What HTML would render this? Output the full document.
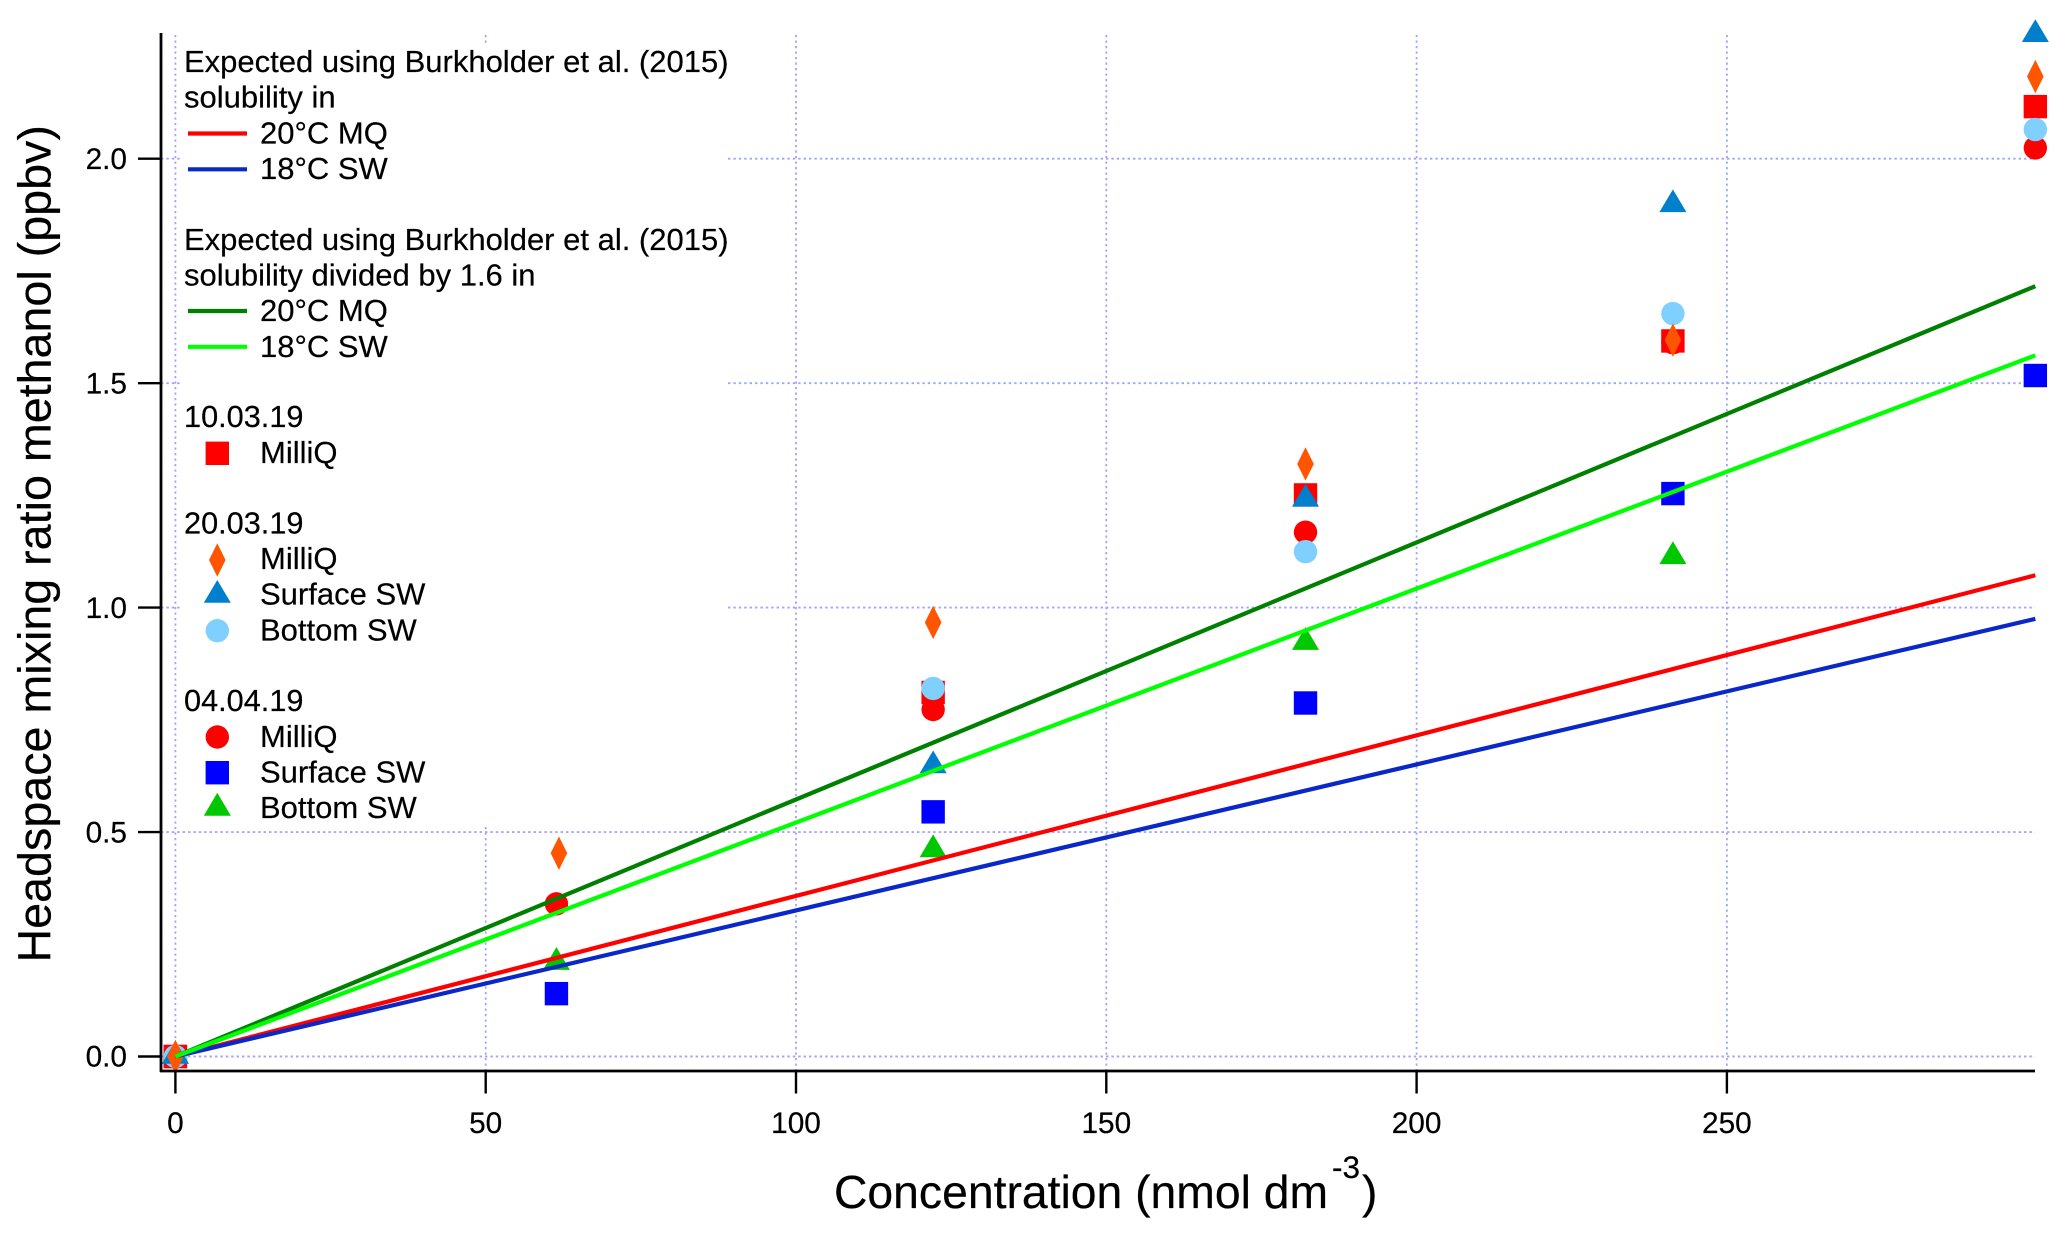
<!DOCTYPE html>
<html lang="en">
<head>
<meta charset="utf-8">
<title>Headspace mixing ratio methanol vs concentration</title>
<style>
  html, body { margin: 0; padding: 0; background: #fff; }
  svg { display: block; }
  text { font-family: "Liberation Sans", Arial, sans-serif; fill: #000; stroke: #000; stroke-width: 0.2px; }
  .leg { font-size: 31px; }
  .date { font-size: 30.7px; }
  .tick { font-size: 29.8px; }
  .title { font-size: 46.3px; }
  .ytitle { font-size: 46.65px; }
</style>
</head>
<body>
<svg id="chart" xmlns="http://www.w3.org/2000/svg" width="2067" height="1236" viewBox="0 0 2067 1236">
  <rect x="0" y="0" width="2067" height="1236" fill="#fff"/>
  <g id="grid"></g>
  <rect x="180" y="43" width="547" height="782" fill="#fff"/>
  <g id="markers"></g>
  <g id="lines"></g>
  <g id="axes"></g>

  <text class="ytitle" transform="translate(50.5,962.5) rotate(-90)">Headspace mixing ratio methanol (ppbv)</text>
  <text class="title" x="834" y="1208">Concentration (nmol dm</text>
  <text x="1332" y="1178" font-size="31.5">-3</text>
  <text class="title" x="1362" y="1208">)</text>

  <g>
    <text class="leg" x="184" y="72">Expected using Burkholder et al. (2015)</text>
    <text class="leg" x="184" y="107.5">solubility in</text>
    <line x1="188" x2="247" y1="133.5" y2="133.5" stroke="#ff0000" stroke-width="4.2"/>
    <text class="leg" x="260" y="143.5">20°C MQ</text>
    <line x1="188" x2="247" y1="169.3" y2="169.3" stroke="#0a28c8" stroke-width="4.2"/>
    <text class="leg" x="260" y="179">18°C SW</text>

    <text class="leg" x="184" y="250">Expected using Burkholder et al. (2015)</text>
    <text class="leg" x="184" y="285.5">solubility divided by 1.6 in</text>
    <line x1="188" x2="247" y1="311" y2="311" stroke="#008000" stroke-width="4.2"/>
    <text class="leg" x="260" y="321">20°C MQ</text>
    <line x1="188" x2="247" y1="346.8" y2="346.8" stroke="#00ff00" stroke-width="4.2"/>
    <text class="leg" x="260" y="357">18°C SW</text>

    <text class="date" x="184" y="427">10.03.19</text>
    <rect x="205.6" y="441.6" width="23.4" height="23.4" fill="#ff0000"/>
    <text class="leg" x="260" y="463">MilliQ</text>

    <text class="date" x="184" y="533.5">20.03.19</text>
    <polygon points="217.3,543.3 225.6,560 217.3,576.7 209,560" fill="#ff5500"/>
    <text class="leg" x="260" y="569">MilliQ</text>
    <polygon points="217.3,580 230.8,602.7 203.8,602.7" fill="#0080cc"/>
    <text class="leg" x="260" y="604.5">Surface SW</text>
    <circle cx="217.3" cy="630.7" r="11.7" fill="#80d0ff"/>
    <text class="leg" x="260" y="640.5">Bottom SW</text>

    <text class="date" x="184" y="711">04.04.19</text>
    <circle cx="217.3" cy="737" r="11.7" fill="#ff0000"/>
    <text class="leg" x="260" y="747">MilliQ</text>
    <rect x="205.6" y="761" width="23.4" height="23.4" fill="#0000ff"/>
    <text class="leg" x="260" y="782.5">Surface SW</text>
    <polygon points="217.3,792.7 230.8,815.7 203.8,815.7" fill="#00c800"/>
    <text class="leg" x="260" y="818">Bottom SW</text>
  </g>
</svg>

<script>
// ---- chart data ----
var xTickValues = [0, 50, 100, 150, 200, 250];
var yTickValues = [0, 0.5, 1, 1.5, 2];
var yTickLabels = ['0.0', '0.5', '1.0', '1.5', '2.0'];

var lineConcentration = [0, 299.7];
var expectedRedMQ = [0, 1.072];
var expectedBlueSW = [0, 0.975];
var expectedDarkGreenMQ = [0, 1.716];
var expectedLightGreenSW = [0, 1.562];

var conc0403 = [0, 61.4, 122.1, 182.1, 241.3, 299.7];
var concDiamond = [0, 61.8, 122.1, 182.1, 241.3, 299.7];

var milliQ1003 = [0, null, 0.811, 1.251, 1.594, 2.116];
var milliQ2003 = [0, 0.453, 0.967, 1.32, 1.596, 2.183];
var surface2003 = [0, null, 0.647, 1.241, 1.897, 2.276];
var bottom2003 = [0, null, 0.82, 1.1245, 1.655, 2.065];
var milliQ0404 = [0, 0.34, 0.773, 1.168, 1.59, 2.024];
var surface0404 = [0, 0.14, 0.545, 0.7875, 1.254, 1.517];
var bottom0404 = [0, 0.209, 0.46, 0.922, 1.113, null];

// ---- axis functions ----
var NS = 'http://www.w3.org/2000/svg';
function xPos(v) { return 175.4 + v * 6.206; }
function yPos(v) { return 1056.5 - v * 448.9; }

function make(tag, attrs, parent) {
  var el = document.createElementNS(NS, tag);
  for (var k in attrs) { el.setAttribute(k, attrs[k]); }
  parent.appendChild(el);
  return el;
}

// ---- grid ----
var gridLayer = document.getElementById('grid');
xTickValues.forEach(function (v) {
  var el = make('line', { x1: xPos(v), x2: xPos(v), y1: 35, y2: 1071, stroke: '#a4a4ff', 'stroke-width': 1.8, 'stroke-dasharray': '2.2 3.3' }, gridLayer);
  
  
});
yTickValues.forEach(function (v, i) {
  var el = make('line', { x1: 161, x2: 2035, y1: yPos(v), y2: yPos(v), stroke: '#a4a4ff', 'stroke-width': 1.9, 'stroke-dasharray': '2.4 3' }, gridLayer);
  
  
});

// ---- markers (drawn under the lines, back to front) ----
var markerLayer = document.getElementById('markers');
function drawSquare(xs, ys, color, name) {
  ys.forEach(function (v, i) {
    if (v === null) { return; }
    var el = make('rect', { x: xPos(xs[i]) - 11.7, y: yPos(v) - 11.7, width: 23.4, height: 23.4, fill: color }, markerLayer);
    
    
  });
}
function drawCircle(xs, ys, color, name) {
  ys.forEach(function (v, i) {
    if (v === null) { return; }
    var el = make('circle', { cx: xPos(xs[i]), cy: yPos(v), r: 11.7, fill: color }, markerLayer);
    
    
  });
}
function drawTriangle(xs, ys, color, name) {
  ys.forEach(function (v, i) {
    if (v === null) { return; }
    var cx = xPos(xs[i]), cy = yPos(v);
    var pts = cx + ',' + (cy - 15.6) + ' ' + (cx + 13.5) + ',' + (cy + 7.2) + ' ' + (cx - 13.5) + ',' + (cy + 7.2);
    var el = make('polygon', { points: pts, fill: color }, markerLayer);
    
    
  });
}
function drawDiamond(xs, ys, color, name) {
  ys.forEach(function (v, i) {
    if (v === null) { return; }
    var cx = xPos(xs[i]), cy = yPos(v);
    var pts = cx + ',' + (cy - 16.7) + ' ' + (cx + 8.3) + ',' + cy + ' ' + cx + ',' + (cy + 16.7) + ' ' + (cx - 8.3) + ',' + cy;
    var el = make('polygon', { points: pts, fill: color }, markerLayer);
    
    
  });
}
drawCircle(conc0403, milliQ0404, '#ff0000', 'point-04-04-19-milliq');
drawSquare(conc0403, surface0404, '#0000ff', 'point-04-04-19-surface-sw');
drawTriangle(conc0403, bottom0404, '#00c800', 'point-04-04-19-bottom-sw');
drawSquare(conc0403, milliQ1003, '#ff0000', 'point-10-03-19-milliq');
drawCircle(conc0403, bottom2003, '#80d0ff', 'point-20-03-19-bottom-sw');
drawTriangle(conc0403, surface2003, '#0080cc', 'point-20-03-19-surface-sw');
drawDiamond(concDiamond, milliQ2003, '#ff5500', 'point-20-03-19-milliq');

// ---- expected lines ----
var lineLayer = document.getElementById('lines');
function drawLine(xs, ys, color, name) {
  var pts = xs.map(function (x, i) { return xPos(x) + ',' + yPos(ys[i]); }).join(' ');
  var el = make('polyline', { points: pts, fill: 'none', stroke: color, 'stroke-width': 4.2 }, lineLayer);
  
  
}
drawLine(lineConcentration, expectedRedMQ, '#ff0000', 'line-expected-20c-mq');
drawLine(lineConcentration, expectedBlueSW, '#0a28c8', 'line-expected-18c-sw');
drawLine(lineConcentration, expectedDarkGreenMQ, '#008000', 'line-divided-20c-mq');
drawLine(lineConcentration, expectedLightGreenSW, '#00ff00', 'line-divided-18c-sw');

// ---- axes ----
var axesLayer = document.getElementById('axes');
var yAxisLine = make('line', { x1: 161, x2: 161, y1: 33, y2: 1072, stroke: '#000', 'stroke-width': 2.8 }, axesLayer);


var xAxisLine = make('line', { x1: 160, x2: 2035, y1: 1071, y2: 1071, stroke: '#000', 'stroke-width': 2.8 }, axesLayer);



xTickValues.forEach(function (v) {
  var t = make('line', { x1: xPos(v), x2: xPos(v), y1: 1071, y2: 1093.5, stroke: '#000', 'stroke-width': 2.4 }, axesLayer);
  
  
  var l = make('text', { x: xPos(v), y: 1133, 'text-anchor': 'middle', 'class': 'tick' }, axesLayer);
  l.textContent = String(v);
  
  
});
yTickValues.forEach(function (v, i) {
  var t = make('line', { x1: 138, x2: 161, y1: yPos(v), y2: yPos(v), stroke: '#000', 'stroke-width': 2.4 }, axesLayer);
  
  
  var l = make('text', { x: 127, y: yPos(v) + 10.2, 'text-anchor': 'end', 'class': 'tick' }, axesLayer);
  l.textContent = yTickLabels[i];
  
  
});
</script>
</body>
</html>
